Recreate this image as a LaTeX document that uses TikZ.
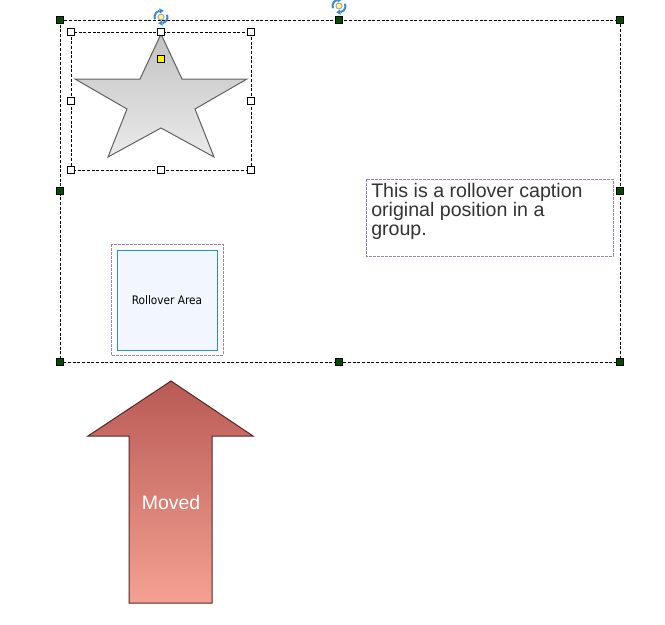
\documentclass[tikz,border=0pt]{standalone}
\usepackage{fontspec}
\setmainfont{Liberation Sans}
\newfontfamily\smallfont{DejaVu Sans Condensed}
\begin{document}
\begin{tikzpicture}[x=0.75pt,y=-0.75pt,
  groupline/.style={draw=black,line width=0.75pt,dash pattern=on 2.2pt off 1.3pt},
  purpledash/.style={draw=black!10!violet!40!gray!70,line width=0.75pt,dash pattern=on 2pt off 1pt},
  greenhandle/.style={draw=black,fill=green!30!black,line width=0.6pt,minimum size=5.2pt,inner sep=0pt,rectangle},
  whitehandle/.style={draw=black,fill=white,line width=0.6pt,minimum size=5.2pt,inner sep=0pt,rectangle},
  yellowhandle/.style={draw=black,fill=yellow,line width=0.6pt,minimum size=5.2pt,inner sep=0pt,rectangle},
]
\useasboundingbox (0,0) rectangle (665,625);
\definecolor{arrowtop}{HTML}{B85A55}
\definecolor{arrowbot}{HTML}{F4A192}
\definecolor{rollblue}{HTML}{2A93B8}
\definecolor{rotblue}{HTML}{3A8AD0}
\definecolor{rollfill}{HTML}{F2F7FF}
\definecolor{captext}{HTML}{333333}

% group frame
\draw[groupline] (60,20) rectangle (620,362);
\foreach \p/\n in {{60,20}/g1,{339,20}/g2,{620,20}/g3,{60,191}/g4,{620,191}/g5,{60,362}/g6,{339,362}/g7,{620,362}/g8}
  \node[greenhandle] (\n) at (\p) {};

% star
\draw[draw=black!62,line width=0.75pt,top color=black!24,bottom color=black!8]
  (161,34) -- (182,79) -- (247,79) -- (195,109) -- (214,157) -- (161,128)
  -- (108,157) -- (127,109) -- (75,79) -- (140,79) -- cycle;
\draw[groupline] (71,32) rectangle (251,170);
\foreach \p/\n in {{71,32}/s1,{161,32}/s2,{251,32}/s3,{71,101}/s4,{251,101}/s5,{71,170}/s6,{161,170}/s7,{251,170}/s8}
  \node[whitehandle] (\n) at (\p) {};
\node[yellowhandle] (sy) at (161,59) {};

% rotation icons
\foreach \c in {{161,17},{339,6}}{
  \begin{scope}[shift={(\c)}]
    \draw[draw=rotblue,line width=1.5pt] (160:6.5) arc (160:255:6.5);
    \draw[draw=rotblue,line width=1.5pt] (-20:6.5) arc (-20:75:6.5);
    \fill[rotblue] (255:6.5) ++(0,-2.5) -- ++(4.5,2.5) -- ++(-4,2.8) -- cycle;
    \fill[rotblue] (75:6.5) ++(0,2.5) -- ++(-4.5,-2.5) -- ++(4,-2.8) -- cycle;
    \draw[draw=black!35,fill=yellow!45!white,line width=0.7pt] (0,0) circle (3);
  \end{scope}
}

% caption
\draw[purpledash] (366,179) rectangle (613,256);
\node[anchor=north west,inner sep=0pt,text=captext,font=\fontsize{14.7pt}{13.9pt}\selectfont,align=left]
  (cap) at (371,183.5) {This is a rollover caption\\original position in a\\group.};

% rollover area
\draw[purpledash] (111,244) rectangle (223,355);
\node[draw=rollblue,fill=rollfill,line width=0.75pt,minimum width=75pt,minimum height=75pt,inner sep=0pt,
  font=\smallfont\fontsize{8.8pt}{10pt}\selectfont] (roll) at (167,300) {Rollover Area};

% moved arrow
\draw[draw=black!55!arrowtop,line width=0.75pt,top color=arrowtop,bottom color=arrowbot]
  (171,381) -- (253,436) -- (212,436) -- (212,603) -- (129,603) -- (129,436) -- (88,436) -- cycle;
\node[text=white,font=\fontsize{14.6pt}{16pt}\selectfont] (moved) at (171,503) {Moved};
\end{tikzpicture}
\end{document}
